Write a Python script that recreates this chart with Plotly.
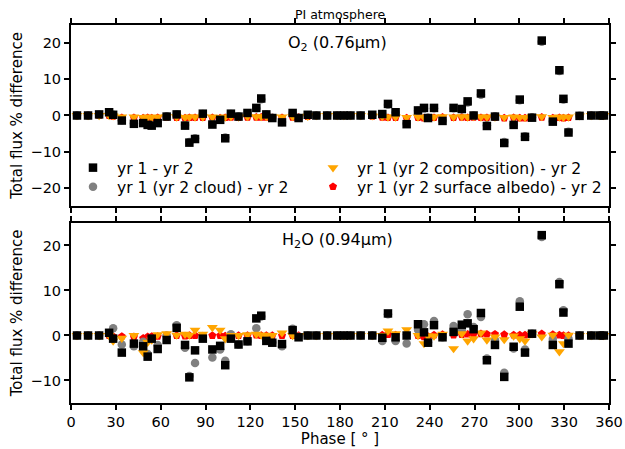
import plotly.graph_objects as go

phase = [4.0, 11.4, 18.8, 25.5, 28.2, 34.0, 42.1, 48.3, 51.3, 54.0, 58.0, 64.0, 70.7, 76.3, 79.2, 83.0,
         88.2, 94.6, 99.8, 103.2, 107.0, 112.1, 118.1, 124.0, 127.3, 130.7, 134.7, 141.2, 148.3, 152.3,
         158.4, 164.2, 171.4, 178.1, 182.6, 187.0, 193.8, 201.6, 208.3, 212.1, 217.2, 224.6, 232.2,
         236.2, 238.9, 242.9, 248.6, 256.0, 261.5, 265.4, 269.4, 274.3, 278.3, 283.7, 289.9, 296.2,
         300.3, 303.8, 308.5, 315.0, 322.4, 326.8, 329.5, 332.9, 340.3, 348.1, 353.7, 356.6]

# O2 (0.76 um) panel
o2_yr = [0, 0, 0.3, 0.9, 0.2, -1.4, -2.3, -2.1, -2.6, -2.8, -2.1, -0.3, 0.3, -2.8, -7.5, -6.5,
         0.5, -2.5, -1.2, -6.3, 0.5, -0.3, 0.7, 2.1, 4.7, 0.3, -0.7, -1.9, 0.7, -0.7,
         0.2, 0, 0, 0, 0, 0, 0, 0.2, 0.4, 3.2, 0.9, -2.4, 1.4,
         2.1, -0.7, 2.1, -1.5, 2.1, 1.8, 3.9, 0, 6.1, -2.9, -0.3, -7.6, -2.6,
         4.4, -5.9, -0.6, 20.7, -1.7, 12.5, 4.6, -4.7, -0.1, 0, 0, 0]
o2_cloud = [0, 0, 0.2, 0.8, 0.2, -1.3, -2.2, -2.0, -2.5, -2.7, -2.0, -0.2, 0.3, -2.6, -7.3, -6.3,
            0.4, -2.3, -1.1, -6.1, 0.4, -0.2, 0.6, 2.0, 4.5, 0.3, -0.6, -1.8, 0.6, -0.6,
            0.1, 0, 0, 0, 0, 0, 0, 0.1, 0.3, 3.0, 0.8, -2.2, 1.3,
            1.9, -0.6, 2.0, -1.4, 2.0, 1.7, 3.6, 0, 5.7, -2.7, -0.2, -7.3, -2.5,
            4.2, -5.7, -0.5, 20.4, -1.6, 12.3, 4.4, -4.5, -0.1, 0, 0, 0]
o2_comp = [0, 0, 0, 0, -0.1, -0.4, -0.4, -0.5, -0.4, -0.5, -0.4, -0.3, -0.4, -0.5, -0.4, -0.4,
           -0.4, -0.4, -0.5, -0.4, -0.3, -0.4, -0.3, -0.3, -0.3, -0.3, -0.4, -0.4, -0.3, -0.3,
           -0.2, 0, 0, 0, 0, 0, 0, -0.1, -0.3, -0.4, -0.4, -0.5, -0.4,
           -0.5, -0.4, -0.4, -0.3, -0.4, -0.3, -0.4, -0.3, -0.4, -0.4, -0.4, -0.5, -0.4,
           -0.5, -0.5, -0.3, -0.3, -0.5, -0.4, -0.5, -0.4, -0.1, 0, 0, 0]
o2_alb = [0, 0, 0, 0, -0.2, -0.6, -0.6, -0.7, -0.6, -0.7, -0.6, -0.5, -0.6, -0.7, -0.6, -0.6,
          -0.6, -0.6, -0.7, -0.6, -0.5, -0.6, -0.5, -0.5, -0.5, -0.5, -0.6, -0.6, -0.5, -0.5,
          -0.3, 0, 0, 0, 0, 0, 0, -0.2, -0.5, -0.6, -0.6, -0.7, -0.6,
          -0.7, -0.6, -0.6, -0.5, -0.6, -0.5, -0.6, -0.5, -0.6, -0.6, -0.6, -0.7, -0.6,
          -0.7, -0.7, -0.5, -0.5, -0.7, -0.6, -0.7, -0.6, -0.2, 0, 0, 0]

# H2O (0.94 um) panel
h2o_yr = [0, 0, 0, 0.6, -0.7, -3.8, -1.8, -2.4, -4.7, -0.7, -3.0, -1.0, 1.7, -2.1, -9.3, -3.3,
          -0.7, -3.1, -2.3, -6.6, -0.7, -2.0, -1.3, 3.8, 4.4, -1.2, -1.6, -1.9, 1.2, -0.4,
          0, 0, 0, 0, 0, 0, 0, 0, -0.5, 4.9, -0.4, 0, 2.5,
          0.7, -1.6, 2.3, -0.4, 0.8, 2.4, 2.7, 1.4, 5.0, -5.5, -2.1, -9.2, -2.5,
          6.4, -3.8, 0.4, 22.3, -2.1, 11.4, 5.1, -1.8, 0, 0, 0, 0]
h2o_cloud = [0, 0, 0, 0.5, 1.6, -2.0, -2.4, -1.4, -4.1, -0.8, -2.1, 0.0, 2.3, -2.7, -9.0, -6.1,
             -0.5, -4.9, -3.1, -5.6, 0.3, -2.0, -1.3, 1.6, 4.2, -1.0, -1.5, -2.4, 1.5, -0.3,
             0, 0, 0, 0, 0, 0, 0, 0, -1.2, 4.7, -1.2, -1.8, 1.3,
             2.5, -1.5, 3.2, -0.4, 2.1, 1.3, 4.7, 1.9, 4.1, -5.1, -1.0, -8.3, -2.9,
             7.6, -3.1, 0.4, 21.9, -0.8, 11.9, 5.6, -0.7, 0, 0, 0, 0]
h2o_comp = [0, 0, 0, 0, -1.2, -0.6, 0.0, -3.8, -1.5, -1.0, 0.2, 0.4, 0.1, 0.3, 0.1, 1.2,
            0.3, 1.8, 1.2, -0.7, 0.0, 0.0, 0.2, 0.3, 0.1, 0.1, 0.0, 0.6, 0.0, 0.0,
            0, 0, 0, 0, 0, 0, 0, 0, 0.0, 1.0, 0.4, 1.3, 0.0,
            -1.8, -0.1, -0.1, 0.3, -2.9, 0.4, -1.2, -0.7, 0.6, -1.0, -0.3, -0.9, -0.1,
            -0.7, -1.2, 0.4, -0.3, 0.1, -3.6, -1.8, 0.1, 0, 0, 0, 0]
h2o_alb = [0, 0, 0, 0, -0.2, -0.2, -0.3, -0.6, -0.3, -0.2, -0.2, -0.1, 0.0, -0.1, 0.0, 0.0,
           -0.1, 0.0, 0.0, -0.1, 0.0, 0.0, 0.0, 0.1, 0.0, 0.0, 0.0, 0.0, 0.0, 0.0,
           0, 0, 0, 0, 0, 0, 0, 0, 0.1, 0.2, 0.1, 0.0, 0.0,
           -0.3, -0.2, 0.1, 0.2, 0.1, 0.2, 0.3, 0.3, 0.4, 0.3, 0.3, 0.2, 0.1,
           0.1, 0.1, 0.2, 0.4, 0.2, 0.1, 0.0, 0.0, 0, 0, 0, 0]

labels = ["yr 1 - yr 2", "yr 1 (yr 2 cloud) - yr 2",
          "yr 1 (yr 2 composition) - yr 2", "yr 1 (yr 2 surface albedo) - yr 2"]
x_ticks = list(range(0, 361, 30))

FONT = "DejaVu Sans"
fig = go.Figure()

def add_panel(ya, yr, cloud, comp, alb, show):
    common = dict(x=phase, mode="markers", yaxis=ya, xaxis="x" if ya == "y" else "x2")
    fig.add_trace(go.Scatter(y=alb, name=labels[3], showlegend=show, legend="legend4",
                             marker=dict(symbol="pentagon", size=8.5, color="red"), **common))
    fig.add_trace(go.Scatter(y=cloud, name=labels[1], showlegend=show, legend="legend2",
                             marker=dict(symbol="circle", size=8.5, color="grey"), **common))
    fig.add_trace(go.Scatter(y=comp, name=labels[2], showlegend=show, legend="legend3",
                             marker=dict(symbol="triangle-down", size=9.5, color="orange"), **common))
    fig.add_trace(go.Scatter(y=yr, name=labels[0], showlegend=show, legend="legend",
                             marker=dict(symbol="square", size=8.5, color="black"), **common))

add_panel("y", o2_yr, o2_cloud, o2_comp, o2_alb, True)
add_panel("y2", h2o_yr, h2o_cloud, h2o_comp, h2o_alb, False)

TICKF = dict(family=FONT, size=14.5, color="black")
axis_style = dict(showline=True, linecolor="black", linewidth=2, mirror="allticks",
                  ticks="outside", ticklen=5, tickwidth=1.5, tickcolor="black",
                  showgrid=False, zeroline=False, tickfont=TICKF, automargin=False)

top_dom = [0.5212, 1.0]
bot_dom = [0.0, 0.4762]
TITLEF = dict(family=FONT, size=15, color="black")


def leg(xpx, ypx):
    return dict(x=(xpx - 71) / 538, y=(403 - ypx) / 378, xanchor="left", yanchor="middle",
                bgcolor="rgba(0,0,0,0)", font=dict(family=FONT, size=15.6, color="black"),
                itemwidth=38)


fig.update_layout(
    width=625, height=449,
    margin=dict(l=71, r=16, t=25, b=46, autoexpand=False),
    paper_bgcolor="white", plot_bgcolor="white",
    font=dict(family=FONT, size=14, color="black"),
    xaxis=dict(domain=[0, 1], range=[0, 360], tickvals=x_ticks, showticklabels=False,
               anchor="y", **axis_style),
    yaxis=dict(domain=top_dom, range=[-25, 25], tickvals=[-20, -10, 0, 10, 20], anchor="x",
               title=dict(text="Total flux % difference", font=TITLEF, standoff=4),
               **axis_style),
    xaxis2=dict(domain=[0, 1], range=[0, 360], tickvals=x_ticks, anchor="y2",
                title=dict(text="Phase [ ° ]", font=TITLEF, standoff=2),
                **axis_style),
    yaxis2=dict(domain=bot_dom, range=[-15, 25], tickvals=[-10, 0, 10, 20], anchor="x2",
                title=dict(text="Total flux % difference", font=TITLEF, standoff=4),
                **axis_style),
    legend=leg(69, 168),
    legend2=leg(69, 187),
    legend3=leg(309, 168),
    legend4=leg(309, 187),
    annotations=[
        dict(text="PI atmosphere", x=0.5, y=(403 - 14) / 378, xref="paper", yref="paper",
             xanchor="center", yanchor="middle", showarrow=False,
             font=dict(family=FONT, size=12.5, color="black")),
        dict(text="O<sub>2</sub> (0.76μm)", x=178, y=20.0, xref="x", yref="y",
             showarrow=False, font=dict(family=FONT, size=16, color="black")),
        dict(text="H<sub>2</sub>O (0.94μm)", x=178, y=21.0, xref="x2", yref="y2",
             showarrow=False, font=dict(family=FONT, size=16, color="black")),
    ],
)

fig.write_html("out.html", config={"displayModeBar": False},
               post_script="document.body.style.margin='0';document.body.style.padding='0';")
